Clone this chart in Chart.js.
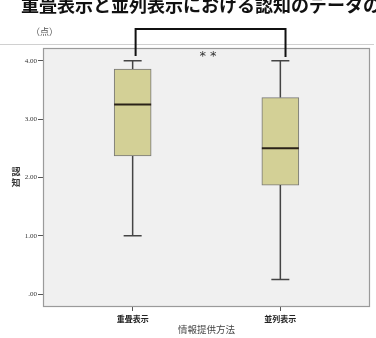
<!DOCTYPE html>
<html>
<head>
<meta charset="utf-8">
<script src="https://cdn.jsdelivr.net/npm/chart.js@4"></script>
<style>
html,body{margin:0;padding:0;background:#fff;}
#wrap{width:376px;height:338px;position:relative;}
</style>
</head>
<body>
<div id="wrap"><canvas id="c" width="376" height="338"></canvas></div>
<script>
const categories = ['重畳表示', '並列表示'];
const minVals = [1.00, 0.25];
const q1Vals = [2.37, 1.87];
const medianVals = [3.25, 2.50];
const q3Vals = [3.86, 3.37];
const maxVals = [4.00, 4.00];
const yTicks = [0, 1, 2, 3, 4];
const xPositions = [1, 2];

const titleText = '重畳表示と並列表示における認知のデータの';
const unitText = '（点）';
const yTitle = ['認', '知'];
const xTitle = '情報提供方法';
const sigText = '* *';

const boxPlugin = {
  id: 'boxExtras',
  beforeDraw(chart) {
    const {ctx, chartArea: a} = chart;
    ctx.save();
    ctx.fillStyle = '#f0f0f0';
    ctx.fillRect(a.left, a.top, a.right - a.left, a.bottom - a.top);
    ctx.restore();
  },
  afterDatasetsDraw(chart) {
    const {ctx, scales: {x, y}} = chart;
    ctx.save();
    xPositions.forEach((xv, i) => {
      const cx = x.getPixelForValue(xv);
      const capHalf = 9;
      ctx.strokeStyle = '#444';
      ctx.lineWidth = 1.5;
      ctx.beginPath();
      ctx.moveTo(cx, y.getPixelForValue(q3Vals[i]));
      ctx.lineTo(cx, y.getPixelForValue(maxVals[i]));
      ctx.moveTo(cx, y.getPixelForValue(q1Vals[i]));
      ctx.lineTo(cx, y.getPixelForValue(minVals[i]));
      ctx.stroke();
      ctx.beginPath();
      const yMax = y.getPixelForValue(maxVals[i]);
      const yMin = y.getPixelForValue(minVals[i]);
      ctx.moveTo(cx - capHalf, yMax); ctx.lineTo(cx + capHalf, yMax);
      ctx.moveTo(cx - capHalf, yMin); ctx.lineTo(cx + capHalf, yMin);
      ctx.stroke();
      const meta = chart.getDatasetMeta(0);
      const bar = meta.data[i];
      const half = bar.width / 2;
      ctx.strokeStyle = '#2a2218';
      ctx.lineWidth = 2;
      ctx.beginPath();
      const ym = y.getPixelForValue(medianVals[i]);
      ctx.moveTo(cx - half, ym); ctx.lineTo(cx + half, ym);
      ctx.stroke();
    });
    ctx.restore();
  },
  afterDraw(chart) {
    const {ctx, chartArea: a, scales: {x, y}} = chart;
    ctx.save();
    ctx.strokeStyle = '#9a9a9a';
    ctx.lineWidth = 1.2;
    ctx.strokeRect(a.left + 0.5, a.top + 0.5, a.right - a.left - 1, a.bottom - a.top - 1);
    ctx.strokeStyle = '#d0d0d0';
    ctx.lineWidth = 1;
    ctx.beginPath();
    ctx.moveTo(0, a.top - 3.5); ctx.lineTo(a.right + 4, a.top - 3.5);
    ctx.stroke();
    ctx.fillStyle = '#111';
    ctx.font = 'bold 18px "Noto Sans CJK JP"';
    ctx.textBaseline = 'middle';
    ctx.textAlign = 'left';
    ctx.fillText(titleText, 21, 5);
    ctx.fillStyle = '#555';
    ctx.font = '9px "Noto Sans CJK JP"';
    ctx.fillText(unitText, 31, 32);
    ctx.fillStyle = '#333';
    ctx.font = 'bold 9px "Noto Sans CJK JP"';
    ctx.textAlign = 'center';
    ctx.fillText(yTitle[0], 16, 172);
    ctx.fillText(yTitle[1], 16, 183);
    ctx.fillStyle = '#444';
    ctx.font = '9.5px "Noto Sans CJK JP"';
    ctx.fillText(xTitle, (x.getPixelForValue(1) + x.getPixelForValue(2)) / 2, 329);
    const bx1 = x.getPixelForValue(1.02);
    const bx2 = x.getPixelForValue(2.035);
    ctx.strokeStyle = '#111';
    ctx.lineWidth = 2;
    ctx.beginPath();
    ctx.moveTo(bx1, 56); ctx.lineTo(bx1, 29); ctx.lineTo(bx2, 29); ctx.lineTo(bx2, 57);
    ctx.stroke();
    ctx.fillStyle = '#333';
    ctx.font = '13px "DejaVu Sans"';
    ctx.fillText(sigText, 208, 57);
    ctx.restore();
  }
};

new Chart(document.getElementById('c'), {
  type: 'bar',
  data: {
    datasets: [{
      data: xPositions.map((xv, i) => ({x: xv, y: [q1Vals[i], q3Vals[i]]})),
      backgroundColor: '#d3d096',
      borderColor: '#777',
      borderWidth: 1,
      borderSkipped: false,
      barThickness: 37
    }]
  },
  options: {
    responsive: false,
    animation: false,
    devicePixelRatio: 1,
    layout: {padding: {left: 0, right: 6, top: 48, bottom: 0}},
    plugins: {legend: {display: false}, tooltip: {enabled: false}, title: {display: false}},
    scales: {
      x: {
        type: 'linear',
        offset: false,
        min: 0.393,
        max: 2.607,
        afterBuildTicks(s) { s.ticks = xPositions.map(v => ({value: v})); },
        afterFit(s) { s.height = 31; },
        border: {display: false},
        grid: {display: true, offset: false, drawOnChartArea: false, drawTicks: true, tickLength: 4, color: '#555'},
        ticks: {
          padding: 3,
          color: '#222',
          font: {family: '"Noto Sans CJK JP"', size: 8, weight: 'bold'},
          callback: (v) => categories[xPositions.indexOf(v)] || ''
        }
      },
      y: {
        min: -0.22,
        max: 4.22,
        afterBuildTicks(s) { s.ticks = yTicks.map(v => ({value: v})); },
        afterFit(s) { s.width = 43; },
        border: {display: false},
        grid: {display: true, drawOnChartArea: false, drawTicks: true, tickLength: 5, color: '#555'},
        ticks: {
          padding: 1,
          color: '#333',
          font: {family: '"Liberation Serif"', size: 7},
          callback: (v) => v === 0 ? '.00' : v.toFixed(2)
        }
      }
    }
  },
  plugins: [boxPlugin]
});
</script>
</body>
</html>
